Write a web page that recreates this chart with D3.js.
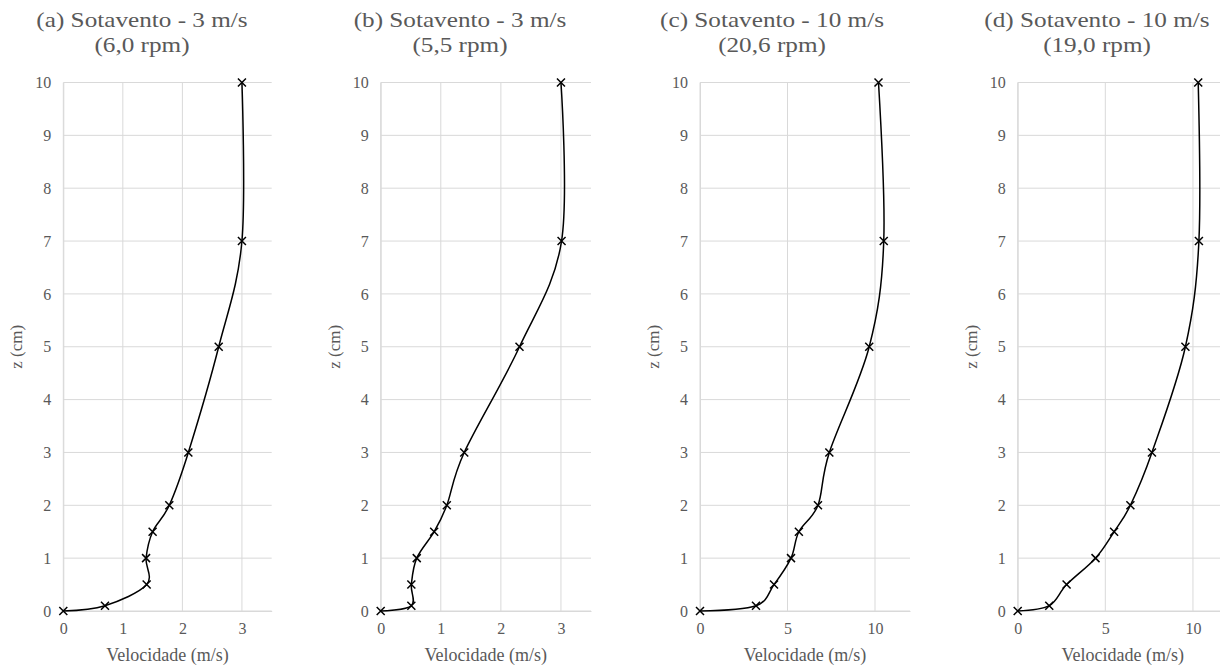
<!DOCTYPE html>
<html>
<head>
<meta charset="utf-8">
<script src="https://cdn.jsdelivr.net/npm/d3@7"></script>
<style>
  html, body { margin: 0; padding: 0; background: #fff; }
  svg { display: block; }
  svg text { font-family: "Times New Roman", Times, "Liberation Serif", "DejaVu Serif", serif; fill: #595959; }
</style>
</head>
<body>
<svg id="chart" width="1220" height="667"></svg>
<script>
// ---- data ----
const heights = [0, 0.1, 0.5, 1, 1.5, 2, 3, 5, 7, 10];           // z (cm)
const velA = [0, 0.70, 1.40, 1.39, 1.50, 1.78, 2.10, 2.61, 3.00, 3.00];
const velB = [0, 0.51, 0.51, 0.60, 0.89, 1.10, 1.39, 2.31, 3.01, 3.00];
const velC = [0, 3.20, 4.23, 5.20, 5.65, 6.74, 7.39, 9.67, 10.50, 10.20];
const velD = [0, 1.80, 2.79, 4.44, 5.50, 6.43, 7.66, 9.57, 10.34, 10.30];
const titleLine1 = ["(a) Sotavento - 3 m/s", "(b) Sotavento - 3 m/s", "(c) Sotavento - 10 m/s", "(d) Sotavento - 10 m/s"];
const titleLine2 = ["(6,0 rpm)", "(5,5 rpm)", "(20,6 rpm)", "(19,0 rpm)"];
const xMax = [3.5, 3.5, 12, 12];
const xTickValues = [[0, 1, 2, 3], [0, 1, 2, 3], [0, 5, 10], [0, 5, 10]];
const yTickValues = [0, 1, 2, 3, 4, 5, 6, 7, 8, 9, 10];
const xAxisTitle = "Velocidade (m/s)";
const yAxisTitle = "z (cm)";

const series = [velA, velB, velC, velD];

// ---- layout ----
const plotLeft = [63.3, 380.7, 700, 1017.7];
const plotRight = [271.7, 591, 910, 1228];
const plotTop = 82.5, plotBottom = 611;
const titleCenter = [142, 460, 772, 1097];
const FONT = '"Times New Roman", Times, "Liberation Serif", "DejaVu Serif", serif';

const svg = d3.select("#chart");

series.forEach((vals, i) => {
  const x = d3.scaleLinear().domain([0, xMax[i]]).range([plotLeft[i], plotRight[i]]);
  const y = d3.scaleLinear().domain([0, 10]).range([plotBottom, plotTop]);
  const g = svg.append("g");

  // gridlines
  g.append("g").selectAll("line").data(yTickValues).join("line")
    .attr("x1", x(0)).attr("x2", x(xMax[i]))
    .attr("y1", d => y(d)).attr("y2", d => y(d))
    .attr("stroke", "#d9d9d9").attr("stroke-width", 1);
  g.append("g").selectAll("line").data(xTickValues[i]).join("line")
    .attr("x1", d => x(d)).attr("x2", d => x(d))
    .attr("y1", y(0)).attr("y2", y(10))
    .attr("stroke", "#d9d9d9").attr("stroke-width", 1);

  // axes
  const xa = g.append("g").attr("transform", `translate(0,${plotBottom})`)
    .call(d3.axisBottom(x).tickValues(xTickValues[i]).tickSize(0).tickPadding(12).tickFormat(d3.format("d")));
  xa.attr("font-family", FONT).attr("font-size", 16);
  xa.select(".domain").attr("stroke", "#d9d9d9");
  xa.selectAll("text").attr("fill", "#595959");

  const ya = g.append("g").attr("transform", `translate(${plotLeft[i]},0)`)
    .call(d3.axisLeft(y).tickValues(yTickValues).tickSize(0).tickPadding(12).tickFormat(d3.format("d")));
  ya.attr("font-family", FONT).attr("font-size", 16);
  ya.select(".domain").attr("stroke", "#d9d9d9");
  ya.selectAll("text").attr("fill", "#595959");

  // line
  const pts = vals.map((v, k) => [v, heights[k]]);
  const line = d3.line().x(d => x(d[0])).y(d => y(d[1])).curve(d3.curveCatmullRom.alpha(0));
  g.append("path").datum(pts).attr("d", line)
    .attr("fill", "none").attr("stroke", "#000").attr("stroke-width", 1.5);

  // markers
  g.append("g").selectAll("path").data(pts).join("path")
    .attr("transform", d => `translate(${x(d[0])},${y(d[1])})`)
    .attr("d", "M-4,-4L4,4M-4,4L4,-4")
    .attr("stroke", "#000").attr("stroke-width", 1.5).attr("fill", "none");

  // titles
  g.append("text").attr("transform", `translate(${titleCenter[i]},27) scale(1.2,1)`)
    .attr("font-family", FONT).attr("text-anchor", "middle").attr("font-size", 21).text(titleLine1[i]);
  g.append("text").attr("transform", `translate(${titleCenter[i]},52) scale(1.2,1)`)
    .attr("font-family", FONT).attr("text-anchor", "middle").attr("font-size", 21).text(titleLine2[i]);

  // axis titles
  g.append("text").attr("x", (plotLeft[i] + plotRight[i]) / 2).attr("y", 661).attr("font-family", FONT)
    .attr("text-anchor", "middle").attr("font-size", 18).text(xAxisTitle);
  g.append("text").attr("font-family", FONT)
    .attr("transform", `translate(${plotLeft[i] - 41},${(plotTop + plotBottom) / 2}) rotate(-90)`)
    .attr("text-anchor", "middle").attr("font-size", 17).text(yAxisTitle);
});
</script>
</body>
</html>
